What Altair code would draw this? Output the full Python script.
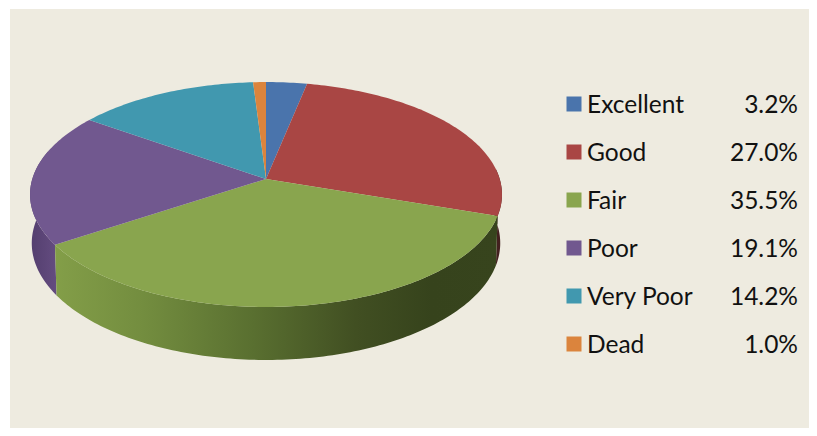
import math
import altair as alt

categories = ["Excellent", "Good", "Fair", "Poor", "Very Poor", "Dead"]
shares = [3.2, 27.0, 35.5, 19.1, 14.2, 1.0]
colors = ["#4A74AC", "#A94644", "#89A54E", "#71588F", "#4198AF", "#DB843D"]

BG = "#EEEBE0"
W, H = 801, 420
P = 0.138   # perspective strength


def rim(theta, cy, A, B):
    t = math.radians(theta)
    u, v = math.sin(t), math.cos(t)
    w = 1 + P * v
    return [266 + A * u / w, cy - B * v / w]


def top(theta):
    return rim(theta, 179, 233.7, 110.3)


def low(theta):
    return rim(theta, 227, 232, 114.6)


def arc_angles(a, b):
    n = max(2, int(abs(b - a)) + 1)
    return [a + (b - a) * i / n for i in range(n + 1)]


def feature(cat, ring):
    return {"type": "Feature", "properties": {"cat": cat},
            "geometry": {"type": "Polygon", "coordinates": [ring + [ring[0]]]}}


bounds = [0.0]
for s in shares:
    bounds.append(bounds[-1] + s * 3.6)
bounds[-1] = 360.0

faces = []
for i, c in enumerate(categories):
    ring = [[266, 179]] + [top(t) for t in arc_angles(bounds[i], bounds[i + 1])]
    faces.append(feature(c, ring))


def wall(cat, a, b):
    ang = arc_angles(a, b)
    ring = [top(t) for t in ang] + [low(t) for t in reversed(ang)]
    return feature(cat, ring)


def grad(stops):
    return alt.Gradient(gradient="linear", x1=0, x2=1, y1=0, y2=0,
                        stops=[alt.GradientStop(offset=o, color=c) for o, c in stops])


proj = dict(type="identity", scale=1, translate=[-8, -8])

bg = alt.Chart(alt.Data(values=[{"a": 1}])).mark_rect(color=BG).encode(
    x=alt.value(2), x2=alt.value(W), y=alt.value(1), y2=alt.value(H))

wall_good = alt.Chart(alt.Data(values=[wall("Good", 85, bounds[2])])).mark_geoshape(
    fill="#43201F", stroke=None).project(**proj)
wall_fair = alt.Chart(alt.Data(values=[wall("Fair", bounds[2], bounds[3])])).mark_geoshape(
    fill=grad([(0, "#839E48"), (0.2, "#738D3F"), (0.45, "#596F30"),
               (0.68, "#414F22"), (0.85, "#36431C"), (1, "#37441D")]),
    stroke=None).project(**proj)
wall_poor = alt.Chart(alt.Data(values=[wall("Poor", bounds[3], 285)])).mark_geoshape(
    fill=grad([(0, "#533E6E"), (1, "#644C80")]), stroke=None).project(**proj)

color = alt.Color("properties.cat:N", legend=None,
                  scale=alt.Scale(domain=categories, range=colors))
top_faces = alt.Chart(alt.Data(values=faces)).mark_geoshape(stroke=None).encode(
    color=color).project(**proj)

rows = [{"cat": c, "pct": f"{s:.1f}%"} for c, s in zip(categories, shares)]
rowy = alt.Y("cat:N", axis=None, sort=categories,
             scale=alt.Scale(domain=categories, range=[96, 336], padding=0))
leg = alt.Chart(alt.Data(values=rows))
squares = leg.mark_square(size=225, opacity=1).encode(
    x=alt.value(566), y=rowy,
    color=alt.Color("cat:N", legend=None, scale=alt.Scale(domain=categories, range=colors)))
names = leg.mark_text(align="left", baseline="middle", font="Lato", fontSize=24.5, dy=1.5,
                      color="#111111").encode(x=alt.value(579), y=rowy, text="cat:N")
pcts = leg.mark_text(align="right", baseline="middle", font="Lato", fontSize=24.5, dy=1.5,
                     color="#111111").encode(x=alt.value(790), y=rowy, text="pct:N")

chart = alt.layer(bg, wall_good, wall_poor, wall_fair, top_faces, squares, names, pcts).properties(
    width=W, height=H, padding=0, background="white",
).resolve_scale(color="independent").configure_view(stroke=None)

chart.save("out.html", embed_options={"renderer": "svg", "actions": False})
